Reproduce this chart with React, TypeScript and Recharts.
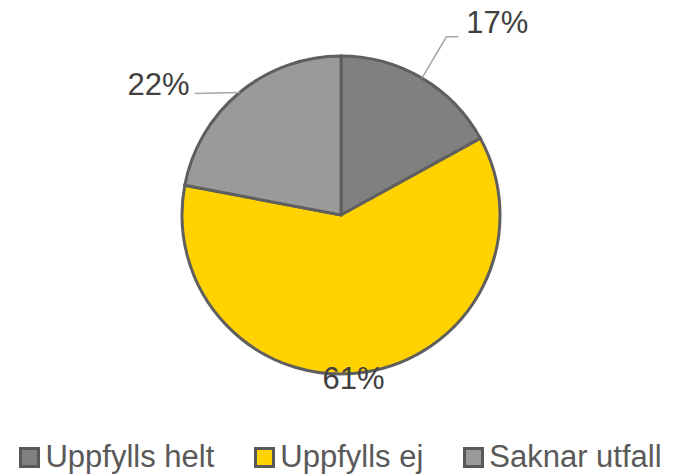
import { PieChart, Pie, Cell, Legend } from "recharts"

const categories = ["Uppfylls helt", "Uppfylls ej", "Saknar utfall"]
const shares = [17, 61, 22]

const COLORS = ["#808080", "#FFD200", "#9A9A9A"]
const RAD = Math.PI / 180
const FONT = "'Liberation Sans', Arial, sans-serif"

const data = categories.map((name, i) => ({ name, value: shares[i] }))

function renderLabel(props: any) {
  const { cx, cy, midAngle, outerRadius, index, value } = props
  const cos = Math.cos(-midAngle * RAD)
  const sin = Math.sin(-midAngle * RAD)
  const ex = cx + outerRadius * cos
  const ey = cy + outerRadius * sin
  const txt = `${value}%`
  const textProps = { fontSize: 31, fill: "#404040", fontFamily: FONT }

  if (index === 0) {
    // elbow leader line out to the upper right
    const mx = cx + (outerRadius + 48) * cos
    const my = cy + (outerRadius + 48) * sin
    return (
      <g>
        <polyline points={`${ex},${ey} ${mx},${my} ${mx + 12},${my}`} fill="none" stroke="#A6A6A6" strokeWidth={1.5} />
        <text x={mx + 20} y={my - 4} textAnchor="start" {...textProps}>{txt}</text>
      </g>
    )
  }
  if (index === 2) {
    return (
      <g>
        <polyline points={`${ex},${ey} ${ex - 45},${ey + 1}`} fill="none" stroke="#A6A6A6" strokeWidth={1.5} />
        <text x={ex - 50} y={ey + 3} textAnchor="end" {...textProps}>{txt}</text>
      </g>
    )
  }
  // inside-edge label for the big slice
  const lx = cx + (outerRadius + 4) * cos - 13
  const ly = cy + (outerRadius + 4) * sin
  return (
    <text x={lx} y={ly + 13} textAnchor="middle" {...textProps}>{txt}</text>
  )
}

function LegendContent() {
  return (
    <div style={{ display: "flex", justifyContent: "center", gap: 40, fontFamily: FONT, fontSize: 31, color: "#595959", lineHeight: "36px" }}>
      {categories.map((c, i) => (
        <div key={c} style={{ display: "flex", alignItems: "center" }}>
          <span style={{ display: "inline-block", width: 15, height: 15, border: "3px solid #595959", background: COLORS[i], marginRight: 5 }} />
          <span>{c}</span>
        </div>
      ))}
    </div>
  )
}

export default function App() {
  return (
    <div style={{ position: "fixed", left: 0, top: 0, width: 681, height: 475, background: "#fff" }}>
      <PieChart width={681} height={475} margin={{ top: 0, right: 0, bottom: 0, left: 0 }}>
        <Pie
          data={data}
          dataKey="value"
          nameKey="name"
          cx={341}
          cy={215}
          outerRadius={159}
          startAngle={90}
          endAngle={-270}
          stroke="#5F5F5F"
          strokeWidth={3}
          label={renderLabel}
          labelLine={false}
          isAnimationActive={false}
        >
          {data.map((d, i) => (
            <Cell key={d.name} fill={COLORS[i]} />
          ))}
        </Pie>
        <Legend verticalAlign="bottom" content={<LegendContent />} wrapperStyle={{ bottom: 0, left: 0, width: 681 }} />
      </PieChart>
    </div>
  )
}
